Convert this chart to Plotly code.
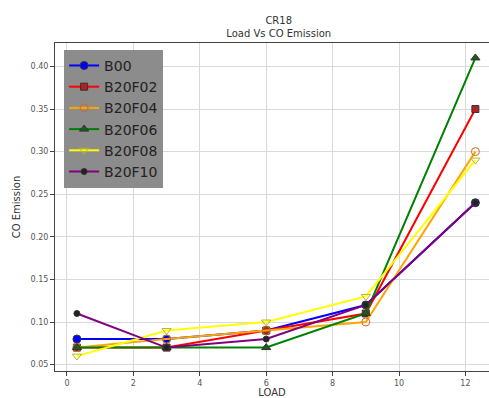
import plotly.graph_objects as go

# Engine load points and CO emission per fuel blend
load = [0.3, 3, 6, 9, 12.3]
b00 = [0.08, 0.08, 0.09, 0.12, 0.24]
b20f02 = [0.07, 0.07, 0.09, 0.11, 0.35]
b20f04 = [0.07, 0.08, 0.09, 0.10, 0.30]
b20f06 = [0.07, 0.07, 0.07, 0.11, 0.41]
b20f08 = [0.06, 0.09, 0.10, 0.13, 0.29]
b20f10 = [0.11, 0.07, 0.08, 0.12, 0.24]

series = [
    ("B00", b00, "blue", "blue", "circle", 8),
    ("B20F02", b20f02, "red", "#b22222", "square", 7),
    ("B20F04", b20f04, "orange", "#d2691e", "circle-open", 8),
    ("B20F06", b20f06, "green", "#1a5e1a", "triangle-up", 8),
    ("B20F08", b20f08, "yellow", "#b8b820", "triangle-down-open", 8),
    ("B20F10", b20f10, "purple", "#222222", "circle", 6),
]

fig = go.Figure()
for name, vals, col, mcol, sym, size in series:
    fig.add_trace(go.Scatter(
        x=load, y=vals, name=name, mode="lines+markers",
        line=dict(color=col, width=2),
        marker=dict(symbol=sym, size=size, color=mcol,
                    line=dict(color="#333333", width=1)),
    ))

axis_common = dict(
    showgrid=True, gridcolor="#d9d9d9", gridwidth=1,
    zeroline=False, showline=True, linecolor="#444444", linewidth=1,
    ticks="outside", ticklen=4, tickcolor="#444444",
    tickfont=dict(family="DejaVu Sans", size=8, color="#555555"),
)

fig.update_layout(
    width=489, height=398,
    margin=dict(l=55, r=0, t=43, b=27),
    paper_bgcolor="white", plot_bgcolor="white",
    title=dict(text="CR18<br>Load Vs CO Emission", x=0.57, xanchor="center",
               y=0.94, yanchor="middle",
               font=dict(family="DejaVu Sans", size=10, color="#333333")),
    xaxis=dict(range=[-0.36, 12.71], tickvals=[0, 2, 4, 6, 8, 10, 12],
               mirror=True,
               title=dict(text="LOAD", standoff=2,
                          font=dict(family="DejaVu Sans", size=10, color="#333333")),
               **axis_common),
    yaxis=dict(range=[0.0425, 0.4275], tickvals=[0.05, 0.10, 0.15, 0.20, 0.25, 0.30, 0.35, 0.40],
               tickformat=".2f",
               title=dict(text="CO Emission", standoff=8,
                          font=dict(family="DejaVu Sans", size=10, color="#333333")),
               **axis_common),
    legend=dict(x=0.021, y=0.979, xanchor="left", yanchor="top",
                bgcolor="#8c8c8c", bordercolor="#8c8c8c", borderwidth=0,
                font=dict(family="DejaVu Sans", size=14, color="#222222"),
                itemwidth=30, tracegroupgap=0),
)

fig.write_html("out.html")
